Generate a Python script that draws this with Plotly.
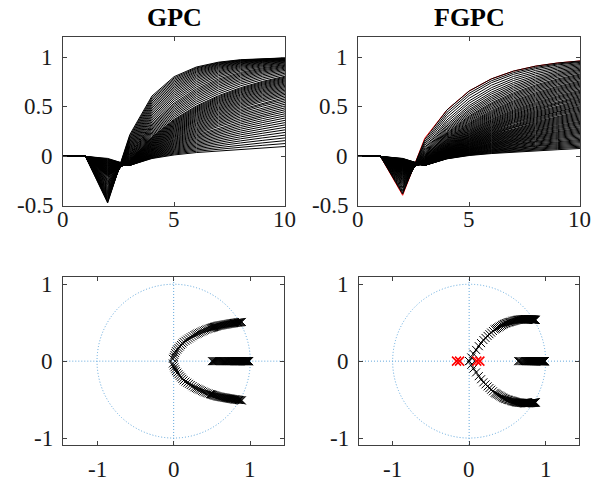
import plotly.graph_objects as go

# ---------------- data ----------------
T = [0, 1, 2, 3, 4, 5, 6, 7, 8, 9, 10]

# GPC step responses, slowest to fastest
GPC_CURVES = [
    [0, 0, -0.020, -0.090, -0.021, 0.015, 0.039, 0.056, 0.072, 0.086, 0.100],
    [0, 0, -0.029, -0.090, -0.012, 0.033, 0.065, 0.091, 0.115, 0.137, 0.159],
    [0, 0, -0.038, -0.090, -0.003, 0.051, 0.091, 0.126, 0.157, 0.187, 0.215],
    [0, 0, -0.047, -0.089, 0.006, 0.069, 0.117, 0.159, 0.198, 0.234, 0.268],
    [0, 0, -0.056, -0.088, 0.016, 0.087, 0.143, 0.192, 0.237, 0.278, 0.318],
    [0, 0, -0.065, -0.087, 0.026, 0.105, 0.169, 0.224, 0.275, 0.321, 0.364],
    [0, 0, -0.074, -0.086, 0.036, 0.123, 0.194, 0.256, 0.311, 0.362, 0.409],
    [0, 0, -0.083, -0.084, 0.046, 0.141, 0.219, 0.286, 0.346, 0.401, 0.451],
    [0, 0, -0.092, -0.082, 0.057, 0.159, 0.243, 0.316, 0.380, 0.438, 0.490],
    [0, 0, -0.101, -0.080, 0.067, 0.177, 0.267, 0.345, 0.413, 0.473, 0.527],
    [0, 0, -0.110, -0.078, 0.078, 0.196, 0.291, 0.373, 0.444, 0.507, 0.562],
    [0, 0, -0.119, -0.075, 0.089, 0.214, 0.315, 0.400, 0.474, 0.538, 0.595],
    [0, 0, -0.128, -0.072, 0.101, 0.232, 0.338, 0.427, 0.503, 0.569, 0.626],
    [0, 0, -0.137, -0.069, 0.112, 0.250, 0.361, 0.453, 0.531, 0.597, 0.654],
    [0, 0, -0.146, -0.066, 0.124, 0.268, 0.383, 0.478, 0.557, 0.624, 0.681],
    [0, 0, -0.155, -0.062, 0.136, 0.286, 0.405, 0.502, 0.583, 0.650, 0.706],
    [0, 0, -0.164, -0.058, 0.148, 0.304, 0.426, 0.526, 0.607, 0.674, 0.730],
    [0, 0, -0.173, -0.054, 0.160, 0.321, 0.448, 0.549, 0.630, 0.697, 0.752],
    [0, 0, -0.182, -0.050, 0.173, 0.339, 0.468, 0.571, 0.653, 0.719, 0.772],
    [0, 0, -0.191, -0.045, 0.186, 0.357, 0.488, 0.592, 0.674, 0.739, 0.791],
    [0, 0, -0.200, -0.040, 0.199, 0.375, 0.509, 0.613, 0.694, 0.758, 0.809],
    [0, 0, -0.218, -0.030, 0.224, 0.409, 0.547, 0.651, 0.732, 0.793, 0.840],
    [0, 0, -0.236, -0.019, 0.250, 0.443, 0.583, 0.688, 0.766, 0.824, 0.868],
    [0, 0, -0.254, -0.006, 0.277, 0.476, 0.618, 0.721, 0.796, 0.851, 0.891],
    [0, 0, -0.272, 0.007, 0.304, 0.509, 0.651, 0.752, 0.823, 0.874, 0.910],
    [0, 0, -0.290, 0.022, 0.332, 0.540, 0.683, 0.781, 0.848, 0.895, 0.927],
    [0, 0, -0.313, 0.041, 0.366, 0.579, 0.719, 0.813, 0.875, 0.916, 0.944],
    [0, 0, -0.335, 0.062, 0.401, 0.616, 0.753, 0.841, 0.898, 0.934, 0.957],
    [0, 0, -0.358, 0.084, 0.436, 0.652, 0.785, 0.866, 0.917, 0.949, 0.968],
    [0, 0, -0.380, 0.108, 0.471, 0.686, 0.813, 0.889, 0.934, 0.960, 0.976],
    [0, 0, -0.403, 0.134, 0.506, 0.718, 0.839, 0.908, 0.947, 0.970, 0.983],
    [0, 0, -0.425, 0.161, 0.541, 0.749, 0.862, 0.925, 0.959, 0.977, 0.988],
    [0, 0, -0.448, 0.190, 0.576, 0.778, 0.884, 0.939, 0.968, 0.983, 0.991],
    [0, 0, -0.470, 0.220, 0.610, 0.805, 0.902, 0.951, 0.976, 0.988, 0.994],
]

# further GPC responses lying between the ones above
GPC_CURVES_MID = [
    [0, 0, -0.025, -0.090, -0.017, 0.024, 0.052, 0.074, 0.094, 0.112, 0.130],
    [0, 0, -0.034, -0.090, -0.008, 0.042, 0.078, 0.109, 0.136, 0.162, 0.187],
    [0, 0, -0.043, -0.090, 0.002, 0.060, 0.104, 0.143, 0.178, 0.211, 0.242],
    [0, 0, -0.052, -0.089, 0.011, 0.078, 0.130, 0.176, 0.218, 0.256, 0.293],
    [0, 0, -0.061, -0.088, 0.021, 0.096, 0.156, 0.208, 0.256, 0.300, 0.341],
    [0, 0, -0.070, -0.087, 0.031, 0.114, 0.182, 0.240, 0.293, 0.342, 0.387],
    [0, 0, -0.079, -0.085, 0.041, 0.132, 0.207, 0.271, 0.329, 0.382, 0.430],
    [0, 0, -0.088, -0.083, 0.052, 0.150, 0.231, 0.301, 0.363, 0.420, 0.471],
    [0, 0, -0.097, -0.081, 0.062, 0.168, 0.255, 0.331, 0.397, 0.456, 0.509],
    [0, 0, -0.106, -0.079, 0.073, 0.187, 0.279, 0.359, 0.429, 0.490, 0.545],
    [0, 0, -0.115, -0.077, 0.084, 0.205, 0.303, 0.387, 0.459, 0.523, 0.579],
    [0, 0, -0.124, -0.074, 0.095, 0.223, 0.327, 0.414, 0.489, 0.554, 0.611],
    [0, 0, -0.133, -0.071, 0.107, 0.241, 0.350, 0.440, 0.517, 0.583, 0.640],
    [0, 0, -0.142, -0.068, 0.118, 0.259, 0.372, 0.466, 0.544, 0.611, 0.668],
    [0, 0, -0.151, -0.064, 0.130, 0.277, 0.394, 0.490, 0.570, 0.637, 0.694],
    [0, 0, -0.160, -0.060, 0.142, 0.295, 0.416, 0.514, 0.595, 0.662, 0.718],
    [0, 0, -0.169, -0.056, 0.154, 0.313, 0.437, 0.538, 0.619, 0.686, 0.741],
    [0, 0, -0.178, -0.052, 0.167, 0.330, 0.458, 0.560, 0.642, 0.708, 0.762],
    [0, 0, -0.187, -0.048, 0.180, 0.348, 0.478, 0.582, 0.664, 0.729, 0.782],
    [0, 0, -0.196, -0.043, 0.193, 0.366, 0.499, 0.603, 0.684, 0.749, 0.800],
    [0, 0, -0.209, -0.035, 0.212, 0.392, 0.528, 0.632, 0.713, 0.776, 0.825],
    [0, 0, -0.227, -0.025, 0.237, 0.426, 0.565, 0.670, 0.749, 0.809, 0.854],
    [0, 0, -0.245, -0.013, 0.264, 0.460, 0.601, 0.705, 0.781, 0.838, 0.880],
    [0, 0, -0.263, 0.001, 0.291, 0.493, 0.635, 0.737, 0.810, 0.863, 0.901],
    [0, 0, -0.281, 0.015, 0.318, 0.525, 0.667, 0.767, 0.836, 0.885, 0.919],
    [0, 0, -0.302, 0.032, 0.349, 0.560, 0.701, 0.797, 0.862, 0.906, 0.936],
    [0, 0, -0.324, 0.052, 0.384, 0.598, 0.736, 0.827, 0.887, 0.925, 0.951],
    [0, 0, -0.347, 0.073, 0.419, 0.634, 0.769, 0.854, 0.908, 0.942, 0.963],
    [0, 0, -0.369, 0.096, 0.454, 0.669, 0.799, 0.878, 0.926, 0.955, 0.972],
    [0, 0, -0.392, 0.121, 0.489, 0.702, 0.826, 0.899, 0.941, 0.965, 0.980],
    [0, 0, -0.414, 0.148, 0.524, 0.734, 0.851, 0.917, 0.953, 0.974, 0.986],
    [0, 0, -0.437, 0.176, 0.559, 0.764, 0.873, 0.932, 0.964, 0.980, 0.990],
    [0, 0, -0.459, 0.205, 0.593, 0.792, 0.893, 0.945, 0.972, 0.986, 0.993],
]

FGPC_CURVES = [
    [0, 0, -0.020, -0.090, -0.024, 0.009, 0.029, 0.044, 0.057, 0.068, 0.080],
    [0, 0, -0.024, -0.090, -0.021, 0.016, 0.039, 0.058, 0.074, 0.089, 0.103],
    [0, 0, -0.028, -0.090, -0.018, 0.023, 0.050, 0.072, 0.091, 0.109, 0.127],
    [0, 0, -0.032, -0.090, -0.014, 0.030, 0.060, 0.085, 0.108, 0.129, 0.150],
    [0, 0, -0.036, -0.090, -0.011, 0.036, 0.070, 0.099, 0.124, 0.148, 0.172],
    [0, 0, -0.040, -0.089, -0.007, 0.044, 0.082, 0.114, 0.143, 0.170, 0.196],
    [0, 0, -0.044, -0.089, -0.003, 0.052, 0.093, 0.128, 0.160, 0.191, 0.220],
    [0, 0, -0.049, -0.088, 0.001, 0.060, 0.104, 0.143, 0.178, 0.211, 0.243],
    [0, 0, -0.053, -0.088, 0.005, 0.067, 0.115, 0.157, 0.195, 0.231, 0.265],
    [0, 0, -0.057, -0.087, 0.010, 0.075, 0.126, 0.171, 0.212, 0.250, 0.287],
    [0, 0, -0.062, -0.086, 0.014, 0.083, 0.138, 0.186, 0.230, 0.271, 0.310],
    [0, 0, -0.067, -0.086, 0.019, 0.092, 0.151, 0.202, 0.249, 0.292, 0.333],
    [0, 0, -0.071, -0.085, 0.024, 0.100, 0.163, 0.217, 0.266, 0.312, 0.354],
    [0, 0, -0.077, -0.084, 0.029, 0.110, 0.175, 0.233, 0.285, 0.333, 0.377],
    [0, 0, -0.082, -0.082, 0.034, 0.119, 0.188, 0.248, 0.303, 0.353, 0.399],
    [0, 0, -0.087, -0.081, 0.040, 0.128, 0.201, 0.264, 0.321, 0.373, 0.421],
    [0, 0, -0.092, -0.080, 0.045, 0.138, 0.214, 0.280, 0.339, 0.393, 0.443],
    [0, 0, -0.097, -0.078, 0.052, 0.149, 0.228, 0.297, 0.359, 0.415, 0.466],
    [0, 0, -0.103, -0.076, 0.058, 0.159, 0.242, 0.314, 0.379, 0.436, 0.488],
    [0, 0, -0.109, -0.074, 0.065, 0.170, 0.257, 0.332, 0.398, 0.457, 0.510],
    [0, 0, -0.115, -0.072, 0.072, 0.181, 0.272, 0.349, 0.418, 0.478, 0.533],
    [0, 0, -0.122, -0.069, 0.080, 0.194, 0.288, 0.368, 0.438, 0.500, 0.556],
    [0, 0, -0.128, -0.067, 0.088, 0.206, 0.303, 0.386, 0.458, 0.522, 0.577],
    [0, 0, -0.135, -0.063, 0.097, 0.220, 0.321, 0.406, 0.480, 0.544, 0.601],
    [0, 0, -0.142, -0.060, 0.106, 0.233, 0.338, 0.426, 0.501, 0.566, 0.623],
    [0, 0, -0.150, -0.056, 0.116, 0.249, 0.356, 0.447, 0.524, 0.590, 0.646],
    [0, 0, -0.158, -0.052, 0.127, 0.264, 0.375, 0.467, 0.546, 0.612, 0.668],
    [0, 0, -0.168, -0.046, 0.139, 0.282, 0.397, 0.491, 0.571, 0.637, 0.694],
    [0, 0, -0.177, -0.040, 0.152, 0.300, 0.419, 0.515, 0.595, 0.662, 0.718],
    [0, 0, -0.187, -0.034, 0.166, 0.319, 0.440, 0.539, 0.619, 0.685, 0.740],
    [0, 0, -0.197, -0.027, 0.180, 0.338, 0.462, 0.562, 0.643, 0.708, 0.762],
    [0, 0, -0.210, -0.018, 0.198, 0.362, 0.489, 0.590, 0.671, 0.735, 0.787],
    [0, 0, -0.222, -0.008, 0.217, 0.386, 0.516, 0.617, 0.697, 0.760, 0.810],
    [0, 0, -0.235, 0.003, 0.236, 0.409, 0.541, 0.643, 0.722, 0.783, 0.831],
    [0, 0, -0.252, 0.018, 0.262, 0.441, 0.575, 0.676, 0.753, 0.812, 0.856],
    [0, 0, -0.270, 0.036, 0.290, 0.474, 0.609, 0.709, 0.783, 0.838, 0.879],
    [0, 0, -0.292, 0.058, 0.324, 0.513, 0.648, 0.745, 0.815, 0.866, 0.903],
    [0, 0, -0.319, 0.089, 0.368, 0.560, 0.693, 0.786, 0.850, 0.895, 0.927],
    [0, 0, -0.351, 0.130, 0.421, 0.614, 0.743, 0.828, 0.885, 0.923, 0.949],
    [0, 0, -0.380, 0.170, 0.469, 0.660, 0.782, 0.861, 0.911, 0.943, 0.963],
]

FGPC_CURVES_MID = [
    [0, 0, -0.022, -0.090, -0.023, 0.013, 0.034, 0.051, 0.066, 0.079, 0.092],
    [0, 0, -0.026, -0.090, -0.020, 0.020, 0.045, 0.065, 0.083, 0.099, 0.115],
    [0, 0, -0.030, -0.090, -0.016, 0.027, 0.055, 0.079, 0.100, 0.119, 0.139],
    [0, 0, -0.034, -0.090, -0.013, 0.033, 0.065, 0.092, 0.116, 0.139, 0.161],
    [0, 0, -0.038, -0.090, -0.009, 0.040, 0.076, 0.107, 0.134, 0.159, 0.184],
    [0, 0, -0.042, -0.089, -0.005, 0.048, 0.088, 0.121, 0.152, 0.181, 0.208],
    [0, 0, -0.047, -0.089, -0.001, 0.056, 0.099, 0.136, 0.169, 0.201, 0.232],
    [0, 0, -0.051, -0.088, 0.003, 0.064, 0.110, 0.150, 0.187, 0.221, 0.254],
    [0, 0, -0.055, -0.088, 0.008, 0.071, 0.121, 0.164, 0.204, 0.241, 0.276],
    [0, 0, -0.060, -0.087, 0.012, 0.079, 0.132, 0.179, 0.221, 0.261, 0.299],
    [0, 0, -0.065, -0.086, 0.017, 0.088, 0.145, 0.194, 0.240, 0.282, 0.322],
    [0, 0, -0.069, -0.086, 0.022, 0.096, 0.157, 0.210, 0.258, 0.302, 0.344],
    [0, 0, -0.074, -0.085, 0.027, 0.105, 0.169, 0.225, 0.276, 0.323, 0.366],
    [0, 0, -0.080, -0.083, 0.032, 0.115, 0.182, 0.241, 0.294, 0.343, 0.388],
    [0, 0, -0.085, -0.082, 0.037, 0.124, 0.195, 0.256, 0.312, 0.363, 0.410],
    [0, 0, -0.090, -0.081, 0.043, 0.133, 0.208, 0.272, 0.330, 0.383, 0.432],
    [0, 0, -0.095, -0.079, 0.049, 0.144, 0.221, 0.289, 0.349, 0.404, 0.455],
    [0, 0, -0.100, -0.077, 0.055, 0.154, 0.235, 0.306, 0.369, 0.426, 0.477],
    [0, 0, -0.106, -0.075, 0.062, 0.165, 0.250, 0.323, 0.389, 0.447, 0.499],
    [0, 0, -0.112, -0.073, 0.069, 0.176, 0.265, 0.341, 0.408, 0.468, 0.522],
    [0, 0, -0.119, -0.071, 0.076, 0.188, 0.280, 0.359, 0.428, 0.489, 0.545],
    [0, 0, -0.125, -0.068, 0.084, 0.200, 0.296, 0.377, 0.448, 0.511, 0.567],
    [0, 0, -0.132, -0.065, 0.093, 0.213, 0.312, 0.396, 0.469, 0.533, 0.589],
    [0, 0, -0.139, -0.062, 0.102, 0.227, 0.330, 0.416, 0.491, 0.555, 0.612],
    [0, 0, -0.146, -0.058, 0.111, 0.241, 0.347, 0.437, 0.513, 0.578, 0.635],
    [0, 0, -0.154, -0.054, 0.122, 0.257, 0.366, 0.457, 0.535, 0.601, 0.657],
    [0, 0, -0.163, -0.049, 0.133, 0.273, 0.386, 0.479, 0.559, 0.625, 0.681],
    [0, 0, -0.173, -0.043, 0.146, 0.291, 0.408, 0.503, 0.583, 0.650, 0.706],
    [0, 0, -0.182, -0.037, 0.159, 0.310, 0.430, 0.527, 0.607, 0.674, 0.729],
    [0, 0, -0.192, -0.031, 0.173, 0.329, 0.451, 0.551, 0.631, 0.697, 0.751],
    [0, 0, -0.204, -0.023, 0.189, 0.350, 0.476, 0.576, 0.657, 0.722, 0.775],
    [0, 0, -0.216, -0.013, 0.208, 0.374, 0.503, 0.604, 0.684, 0.748, 0.799],
    [0, 0, -0.229, -0.003, 0.227, 0.398, 0.529, 0.630, 0.710, 0.772, 0.821],
    [0, 0, -0.244, 0.011, 0.249, 0.425, 0.558, 0.660, 0.738, 0.798, 0.844],
    [0, 0, -0.261, 0.027, 0.276, 0.458, 0.592, 0.693, 0.768, 0.825, 0.868],
    [0, 0, -0.281, 0.047, 0.307, 0.494, 0.629, 0.727, 0.799, 0.852, 0.891],
    [0, 0, -0.306, 0.074, 0.346, 0.537, 0.671, 0.766, 0.833, 0.881, 0.915],
    [0, 0, -0.335, 0.110, 0.395, 0.587, 0.718, 0.807, 0.868, 0.909, 0.938],
    [0, 0, -0.366, 0.150, 0.445, 0.637, 0.763, 0.845, 0.898, 0.933, 0.956],
]

FGPC_RED_CURVE = [0, 0, -0.392, 0.184, 0.469, 0.660, 0.782, 0.861, 0.911, 0.943, 0.963]

# closed-loop poles: complex pair (upper half; lower half is the conjugate) and real pole
GPC_POLE_RE = [0.890, 0.871, 0.853, 0.834, 0.815, 0.797, 0.778, 0.759, 0.739, 0.716,
               0.693, 0.671, 0.648, 0.625, 0.603, 0.580, 0.559, 0.537, 0.516, 0.495,
               0.473, 0.431, 0.390, 0.350, 0.310, 0.270, 0.223, 0.177, 0.130, 0.097,
               0.063, 0.030, 0.010, -0.010,
               0.881, 0.862, 0.844, 0.825, 0.806, 0.788, 0.769, 0.749, 0.728, 0.705,
               0.682, 0.660, 0.637, 0.614, 0.592, 0.570, 0.548, 0.527, 0.506, 0.484,
               0.452, 0.411, 0.370, 0.330, 0.290, 0.247, 0.200, 0.154, 0.114, 0.080,
               0.047, 0.020, 0.000]
GPC_POLE_IM = [0.510, 0.507, 0.505, 0.502, 0.499, 0.497, 0.494, 0.491, 0.488, 0.484,
               0.480, 0.476, 0.472, 0.468, 0.464, 0.460, 0.453, 0.447, 0.440, 0.433,
               0.427, 0.413, 0.396, 0.377, 0.359, 0.340, 0.310, 0.280, 0.250, 0.210,
               0.170, 0.130, 0.080, 0.030,
               0.509, 0.506, 0.504, 0.501, 0.498, 0.496, 0.493, 0.490, 0.486, 0.482,
               0.478, 0.474, 0.470, 0.466, 0.462, 0.457, 0.450, 0.444, 0.437, 0.430,
               0.420, 0.405, 0.387, 0.368, 0.350, 0.325, 0.295, 0.265, 0.230, 0.190,
               0.150, 0.105, 0.055]
GPC_REAL_POLES = [0.985, 0.975, 0.966, 0.956, 0.946, 0.937, 0.927, 0.917, 0.907, 0.898,
                  0.888, 0.878, 0.869, 0.859, 0.849, 0.840, 0.830, 0.820, 0.810, 0.801,
                  0.791, 0.772, 0.752, 0.733, 0.713, 0.694, 0.670, 0.646, 0.621, 0.597,
                  0.573, 0.549, 0.524, 0.500,
                  0.980, 0.971, 0.961, 0.951, 0.942, 0.932, 0.922, 0.912, 0.903, 0.893,
                  0.883, 0.874, 0.864, 0.854, 0.845, 0.835, 0.825, 0.815, 0.806, 0.796,
                  0.782, 0.762, 0.743, 0.723, 0.704, 0.682, 0.658, 0.634, 0.609, 0.585,
                  0.561, 0.537, 0.512]

FGPC_POLE_RE = [0.870, 0.862, 0.855, 0.847, 0.839, 0.831, 0.822, 0.814, 0.806, 0.797,
                0.786, 0.776, 0.766, 0.754, 0.743, 0.732, 0.721, 0.705, 0.689, 0.673,
                0.656, 0.638, 0.620, 0.600, 0.580, 0.558, 0.536, 0.510, 0.483, 0.457,
                0.431, 0.398, 0.365, 0.333, 0.288, 0.241, 0.186, 0.126, 0.056, 0.000,
                0.866, 0.859, 0.851, 0.843, 0.835, 0.827, 0.818, 0.810, 0.802, 0.792,
                0.781, 0.771, 0.760, 0.749, 0.738, 0.727, 0.713, 0.697, 0.681, 0.665,
                0.647, 0.629, 0.610, 0.590, 0.569, 0.547, 0.523, 0.497, 0.470, 0.444,
                0.415, 0.382, 0.349, 0.311, 0.265, 0.214, 0.156, 0.091, 0.028]
FGPC_POLE_IM = [0.536, 0.537, 0.538, 0.539, 0.540, 0.541, 0.542, 0.543, 0.544, 0.545,
                0.545, 0.546, 0.546, 0.546, 0.546, 0.547, 0.547, 0.545, 0.543, 0.541,
                0.539, 0.537, 0.535, 0.529, 0.523, 0.516, 0.510, 0.502, 0.494, 0.483,
                0.468, 0.449, 0.430, 0.412, 0.371, 0.328, 0.275, 0.195, 0.096, 0.000,
                0.537, 0.538, 0.539, 0.540, 0.541, 0.542, 0.543, 0.544, 0.545, 0.545,
                0.546, 0.546, 0.546, 0.546, 0.547, 0.547, 0.546, 0.544, 0.542, 0.540,
                0.538, 0.536, 0.532, 0.526, 0.520, 0.513, 0.506, 0.498, 0.489, 0.476,
                0.459, 0.440, 0.421, 0.392, 0.350, 0.302, 0.235, 0.146, 0.048]
FGPC_REAL_POLES = [0.988, 0.984, 0.981, 0.977, 0.973, 0.969, 0.965, 0.960, 0.956, 0.952,
                   0.948, 0.943, 0.938, 0.934, 0.929, 0.924, 0.919, 0.913, 0.908, 0.902,
                   0.896, 0.890, 0.884, 0.877, 0.870, 0.862, 0.855, 0.845, 0.836, 0.827,
                   0.817, 0.805, 0.793, 0.780, 0.764, 0.746, 0.725, 0.699, 0.668, 0.640,
                   0.986, 0.983, 0.979, 0.975, 0.971, 0.967, 0.963, 0.958, 0.954, 0.950,
                   0.946, 0.941, 0.936, 0.932, 0.927, 0.922, 0.916, 0.911, 0.905, 0.899,
                   0.893, 0.887, 0.881, 0.874, 0.866, 0.859, 0.850, 0.841, 0.832, 0.822,
                   0.811, 0.799, 0.787, 0.772, 0.755, 0.736, 0.712, 0.684, 0.654]
FGPC_RED_POLES = [-0.165, -0.125, 0.100, 0.140]

TITLES = ["GPC", "FGPC"]
TOP_XTICKS = [0, 5, 10]
TOP_XTEXT = ["0", "5", "10"]
TOP_YTICKS = [-0.5, 0, 0.5, 1]
TOP_YTEXT = ["-0.5", "0", "0.5", "1"]
PZ_TICKS = [-1, 0, 1]
PZ_TEXT = ["-1", "0", "1"]

# ---------------- styling ----------------
FONT = "Liberation Serif"
FRAME = "#404040"
GUIDE = "#5fa6dc"
TICK_SIZE = 23

W, H = 607, 485
L_DOM = [0.1043, 0.4695]
R_DOM = [0.5903, 0.9555]
LB_DOM = [0.1043, 0.4679]
RB_DOM = [0.5914, 0.9544]
TOP_DOM = [0.5753, 0.9227]
BOT_DOM = [0.0825, 0.4282]


def family(curves):
    xs, ys = [], []
    for c in curves:
        xs += T + [None]
        ys += c + [None]
    return xs, ys


fig = go.Figure()

gx, gy = family(GPC_CURVES + GPC_CURVES_MID)
fig.add_trace(go.Scatter(x=gx, y=gy, mode="lines", line=dict(color="black", width=1),
                         xaxis="x", yaxis="y", showlegend=False, hoverinfo="skip"))

fig.add_trace(go.Scatter(x=T, y=FGPC_RED_CURVE, mode="lines", line=dict(color="#ff0000", width=1),
                         xaxis="x2", yaxis="y2", showlegend=False, hoverinfo="skip"))
fx, fy = family(FGPC_CURVES + FGPC_CURVES_MID)
fig.add_trace(go.Scatter(x=fx, y=fy, mode="lines", line=dict(color="black", width=1),
                         xaxis="x2", yaxis="y2", showlegend=False, hoverinfo="skip"))

mk = dict(symbol="x-thin", size=8, color="black", line=dict(width=1, color="black"))
mk_red = dict(symbol="x-thin", size=9, color="red", line=dict(width=1.5, color="red"))


def pz(re, im, real, xa, ya):
    fig.add_trace(go.Scatter(x=re, y=im, mode="markers", marker=mk, xaxis=xa, yaxis=ya,
                             showlegend=False, hoverinfo="skip"))
    fig.add_trace(go.Scatter(x=re, y=[-v for v in im], mode="markers", marker=mk, xaxis=xa, yaxis=ya,
                             showlegend=False, hoverinfo="skip"))
    fig.add_trace(go.Scatter(x=real, y=[0] * len(real), mode="markers", marker=mk, xaxis=xa, yaxis=ya,
                             showlegend=False, hoverinfo="skip"))


pz(GPC_POLE_RE, GPC_POLE_IM, GPC_REAL_POLES, "x3", "y3")
pz(FGPC_POLE_RE, FGPC_POLE_IM, FGPC_REAL_POLES, "x4", "y4")
fig.add_trace(go.Scatter(x=FGPC_RED_POLES, y=[0] * len(FGPC_RED_POLES), mode="markers", marker=mk_red,
                         xaxis="x4", yaxis="y4", showlegend=False, hoverinfo="skip"))


def axis(**kw):
    base = dict(showline=True, linecolor=FRAME, linewidth=1, mirror="ticks", ticks="inside", ticklen=4,
                tickcolor=FRAME, tickwidth=1, showgrid=False, zeroline=False, automargin=False,
                showticklabels=False, fixedrange=True)
    base.update(kw)
    return base


PZ_X = [-1.44, 1.44]
PZ_Y = [-1.09, 1.09]

fig.update_layout(
    template="none",
    font=dict(family=FONT, size=21, color="#1a1a1a"),
    width=W, height=H, autosize=False,
    margin=dict(l=0, r=0, t=0, b=0),
    paper_bgcolor="white", plot_bgcolor="white",
    showlegend=False,
    xaxis=axis(domain=L_DOM, range=[0, 10], tickvals=TOP_XTICKS, anchor="y"),
    yaxis=axis(domain=TOP_DOM, range=[-0.5, 1.2], tickvals=TOP_YTICKS, anchor="x"),
    xaxis2=axis(domain=R_DOM, range=[0, 10], tickvals=TOP_XTICKS, anchor="y2"),
    yaxis2=axis(domain=TOP_DOM, range=[-0.5, 1.2], tickvals=TOP_YTICKS, anchor="x2"),
    xaxis3=axis(domain=LB_DOM, range=PZ_X, tickvals=PZ_TICKS, anchor="y3"),
    yaxis3=axis(domain=BOT_DOM, range=PZ_Y, tickvals=PZ_TICKS, anchor="x3"),
    xaxis4=axis(domain=RB_DOM, range=PZ_X, tickvals=PZ_TICKS, anchor="y4"),
    yaxis4=axis(domain=BOT_DOM, range=PZ_Y, tickvals=PZ_TICKS, anchor="x4"),
)

shapes = []
for xr, yr in (("x3", "y3"), ("x4", "y4")):
    dash = "1px,2px"
    shapes.append(dict(type="circle", xref=xr, yref=yr, x0=-1, y0=-1, x1=1, y1=1,
                       line=dict(color=GUIDE, width=1, dash=dash), layer="below"))
    shapes.append(dict(type="line", xref=xr, yref=yr, x0=PZ_X[0], x1=PZ_X[1], y0=0, y1=0,
                       line=dict(color=GUIDE, width=1, dash=dash), layer="below"))
    shapes.append(dict(type="line", xref=xr, yref=yr, x0=0, x1=0, y0=PZ_Y[0], y1=PZ_Y[1],
                       line=dict(color=GUIDE, width=1, dash=dash), layer="below"))
fig.update_layout(shapes=shapes)

tick_font = dict(family=FONT, size=TICK_SIZE, color="#1a1a1a")
annotations = []
for title, dom in zip(TITLES, (L_DOM, R_DOM)):
    annotations.append(dict(text="<b>%s</b>" % title, xref="paper", yref="paper",
                            x=(dom[0] + dom[1]) / 2, y=1 - 18 / H, xanchor="center", yanchor="middle",
                            showarrow=False, font=dict(family=FONT, size=26, color="black")))

# tick labels (serif, placed on the axes' own scales)
panels = [
    ("x", "y", TOP_XTICKS, TOP_XTEXT, TOP_YTICKS, TOP_YTEXT, L_DOM, 1 - 220 / H),
    ("x2", "y2", TOP_XTICKS, TOP_XTEXT, TOP_YTICKS, TOP_YTEXT, R_DOM, 1 - 220 / H),
    ("x3", "y3", PZ_TICKS, PZ_TEXT, PZ_TICKS, PZ_TEXT, LB_DOM, 1 - 469 / H),
    ("x4", "y4", PZ_TICKS, PZ_TEXT, PZ_TICKS, PZ_TEXT, RB_DOM, 1 - 469 / H),
]
for xa, ya, xv, xt, yv, yt, dom, ylab in panels:
    for v, t in zip(xv, xt):
        annotations.append(dict(text=t, xref=xa, yref="paper", x=v, y=ylab, xanchor="center",
                                yanchor="middle", showarrow=False, font=tick_font))
    for v, t in zip(yv, yt):
        annotations.append(dict(text=t, xref="paper", yref=ya, x=dom[0] - 8 / W, y=v, xanchor="right",
                                yanchor="middle", showarrow=False, font=tick_font))
fig.update_layout(annotations=annotations)

fig.write_html("out.html")
